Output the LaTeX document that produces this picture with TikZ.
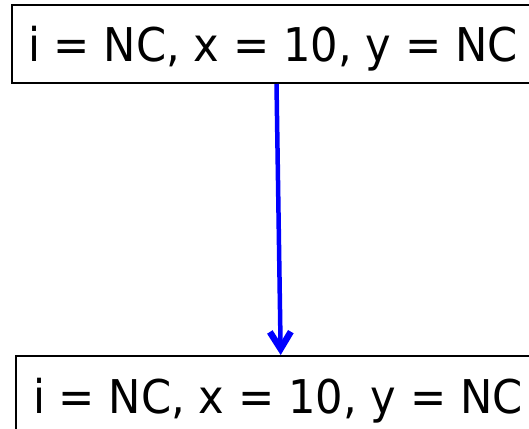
\documentclass[tikz,border=0pt]{standalone}
\usepackage{fontspec}
\setmainfont{DejaVu Sans}
\usetikzlibrary{arrows.meta}
\tikzset{
  statebox/.style={draw=black, line width=2pt, fill=white, inner sep=0pt, minimum width=529pt, minimum height=78pt, anchor=north west},
  statetext/.style={inner sep=0pt, anchor=base west, font=\fontsize{46.5pt}{50pt}\selectfont},
  flow/.style={draw={rgb,255:red,0;green,0;blue,255}, line width=4.5pt, -{Straight Barb[length=17pt,width=21pt,line width=6.5pt]}}
}
\newcommand{\stxt}{\scalebox{0.93}[1]{i = NC, x = 10, y = NC}}
\begin{document}
\begin{tikzpicture}[x=1pt,y=-1pt]
\useasboundingbox (0,0) rectangle (529,428);
\clip (0,0) rectangle (529,428);
\fill[white] (0,0) rectangle (529,428);
\node[statebox] (top) at (11,4) {};
\node[statebox] (bot) at (15,355) {};
\node[statetext] (toptext) at (28,61.5) {\stxt};
\node[statetext] (bottext) at (33,413) {\stxt};
\draw[flow] ([xshift=265.5pt]top.south west) -- ([xshift=265.7pt]bot.north west);
\end{tikzpicture}
\end{document}
